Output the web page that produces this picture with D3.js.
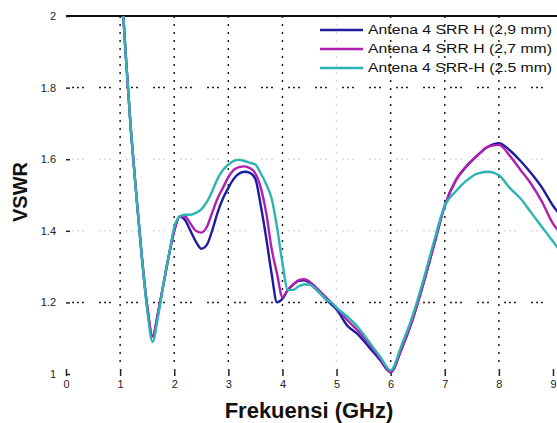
<!DOCTYPE html>
<html>
<head>
<meta charset="utf-8">
<script src="https://cdn.jsdelivr.net/npm/d3@7"></script>
<style>
  html, body { margin: 0; padding: 0; background: #fff; }
  svg { display: block; }
  text { font-family: "Liberation Sans", Arial, sans-serif; }
</style>
</head>
<body>
<svg id="chart" width="557" height="423"></svg>
<script>
// ---- data ----
const freq = [1.0, 1.1, 1.2, 1.3, 1.4, 1.5, 1.6, 1.7, 1.8, 1.9, 2.0, 2.1, 2.2, 2.3, 2.4, 2.5, 2.6, 2.7, 2.8, 2.9,
  3.0, 3.1, 3.2, 3.3, 3.4, 3.5, 3.6, 3.7, 3.8, 3.9, 4.0, 4.1, 4.2, 4.3, 4.4, 4.5, 4.6, 4.7, 4.8, 4.9,
  5.0, 5.2, 5.4, 5.6, 5.8, 6.0, 6.2, 6.4, 6.6, 6.8, 7.0, 7.2, 7.4, 7.6, 7.8, 8.0, 8.2, 8.4, 8.6, 8.8, 9.0, 9.1];

const vswr29 = [2.15, 1.90, 1.68, 1.50, 1.33, 1.19, 1.105, 1.17, 1.25, 1.33, 1.40, 1.44, 1.43, 1.40, 1.37, 1.35, 1.36, 1.40, 1.45, 1.49,
  1.52, 1.545, 1.56, 1.565, 1.562, 1.545, 1.47, 1.38, 1.28, 1.20, 1.21, 1.235, 1.25, 1.26, 1.262, 1.255, 1.24, 1.225, 1.21, 1.195,
  1.18, 1.135, 1.11, 1.075, 1.04, 1.005, 1.07, 1.15, 1.25, 1.36, 1.47, 1.54, 1.58, 1.61, 1.635, 1.645, 1.625, 1.595, 1.56, 1.52, 1.47, 1.45];

const vswr27 = [2.15, 1.90, 1.68, 1.50, 1.33, 1.19, 1.105, 1.17, 1.25, 1.33, 1.40, 1.44, 1.44, 1.42, 1.40, 1.395, 1.41, 1.45, 1.49, 1.52,
  1.55, 1.57, 1.578, 1.58, 1.575, 1.56, 1.52, 1.45, 1.35, 1.28, 1.215, 1.235, 1.25, 1.262, 1.265, 1.258, 1.245, 1.23, 1.215, 1.20,
  1.185, 1.15, 1.12, 1.085, 1.045, 1.005, 1.07, 1.15, 1.25, 1.36, 1.47, 1.54, 1.58, 1.61, 1.635, 1.64, 1.61, 1.57, 1.53, 1.48, 1.42, 1.40];

const vswr25 = [2.15, 1.90, 1.68, 1.50, 1.33, 1.18, 1.09, 1.16, 1.25, 1.33, 1.41, 1.44, 1.445, 1.445, 1.45, 1.46, 1.48, 1.51, 1.545, 1.57,
  1.585, 1.595, 1.598, 1.595, 1.59, 1.585, 1.56, 1.53, 1.49, 1.41, 1.31, 1.235, 1.235, 1.245, 1.25, 1.25, 1.24, 1.225, 1.21, 1.20,
  1.185, 1.16, 1.13, 1.09, 1.05, 1.01, 1.08, 1.16, 1.26, 1.37, 1.47, 1.51, 1.54, 1.56, 1.565, 1.555, 1.52, 1.49, 1.45, 1.41, 1.37, 1.35];

const seriesNames = ["Antena 4 SRR H (2,9 mm)", "Antena 4 SRR H (2,7 mm)", "Antena 4 SRR-H (2.5 mm)"];
const seriesColors = ["#1c1ca0", "#b020b0", "#2cb4b4"];
const xTicks = [0, 1, 2, 3, 4, 5, 6, 7, 8, 9];
const yTicks = [1, 1.2, 1.4, 1.6, 1.8, 2];
const yTickLabels = ["1", "1.2", "1.4", "1.6", "1.8", "2"];

// ---- chart ----
const svg = d3.select("#chart");
const x = d3.scaleLinear().domain([0, 9]).range([66, 553]);
const y = d3.scaleLinear().domain([1, 2]).range([374, 16]);
const plotRight = 557;

svg.append("defs").append("clipPath").attr("id", "clip")
  .append("rect").attr("x", x(0)).attr("y", y(2)).attr("width", plotRight - x(0)).attr("height", y(1) - y(2) + 8);

// gridlines
const faintX = [5];
svg.append("g").selectAll("line").data(xTicks.filter(d => d > 0 && d < 9)).join("line")
  .attr("x1", d => x(d)).attr("x2", d => x(d))
  .attr("y1", y(2)).attr("y2", y(1) - 6)
  .attr("stroke", d => faintX.includes(d) ? "#d8d8d8" : "#222")
  .attr("stroke-width", 1.5)
  .attr("stroke-dasharray", "2,6");

const faintY = [1.4, 1.6];
svg.append("g").selectAll("line").data(yTicks.filter(d => d > 1 && d < 2)).join("line")
  .attr("x1", x(0) + 6).attr("x2", plotRight)
  .attr("y1", d => y(d)).attr("y2", d => y(d))
  .attr("stroke", d => faintY.includes(d) ? "#dcdcdc" : "#222")
  .attr("stroke-width", 1.5)
  .attr("stroke-dasharray", "2,3,2,3,2,15");

// x axis ticks + labels (no domain line)
const xAxis = d3.axisBottom(x).tickValues(xTicks).tickSize(-7).tickPadding(4).tickFormat(d3.format("d"));
const gx = svg.append("g").attr("transform", `translate(0,${y(1) + 2})`).call(xAxis);
gx.select(".domain").remove();
gx.selectAll(".tick line").attr("stroke", "#222").attr("stroke-width", 1.5);
gx.selectAll(".tick text").attr("font-size", 11).attr("fill", "#222");

// y axis ticks + labels
const yAxis = d3.axisLeft(y).tickValues(yTicks).tickSize(-4).tickPadding(10)
  .tickFormat((d, i) => yTickLabels[i]);
const gy = svg.append("g").attr("transform", `translate(${x(0)},0)`).call(yAxis);
gy.select(".domain").remove();
gy.selectAll(".tick line").attr("stroke", "#222").attr("stroke-width", 1.5);
gy.selectAll(".tick text").attr("font-size", 11).attr("fill", "#222");

// top border
svg.append("line").attr("x1", x(0)).attr("x2", plotRight).attr("y1", y(2)).attr("y2", y(2))
  .attr("stroke", "#111").attr("stroke-width", 2);

// series lines
const allSeries = [vswr29, vswr27, vswr25];
const line = d3.line().x((d, i) => x(freq[i])).y(d => y(d)).curve(d3.curveMonotoneX);
const gl = svg.append("g").attr("clip-path", "url(#clip)");
allSeries.forEach((vals, k) => {
  gl.append("path").datum(vals)
    .attr("d", line)
    .attr("fill", "none")
    .attr("stroke", seriesColors[k])
    .attr("stroke-width", 2.4)
    .attr("stroke-linejoin", "round");
});

// legend
const leg = svg.append("g");
seriesNames.forEach((name, k) => {
  const ly = 30 + k * 19;
  leg.append("line").attr("x1", 320).attr("x2", 363).attr("y1", ly).attr("y2", ly)
    .attr("stroke", seriesColors[k]).attr("stroke-width", 2.4);
  leg.append("text").attr("x", 368).attr("y", ly + 4)
    .attr("font-size", 12).attr("fill", "#111")
    .attr("textLength", 184).attr("lengthAdjust", "spacingAndGlyphs")
    .text(name);
});

// axis titles
svg.append("text").attr("x", 309).attr("y", 418).attr("text-anchor", "middle")
  .attr("font-size", 22).attr("font-weight", "bold").attr("fill", "#111")
  .text("Frekuensi (GHz)");

svg.append("text").attr("transform", "translate(27,192) rotate(-90)")
  .attr("text-anchor", "middle").attr("font-size", 20).attr("font-weight", "bold").attr("fill", "#111")
  .text("VSWR");
</script>
</body>
</html>
